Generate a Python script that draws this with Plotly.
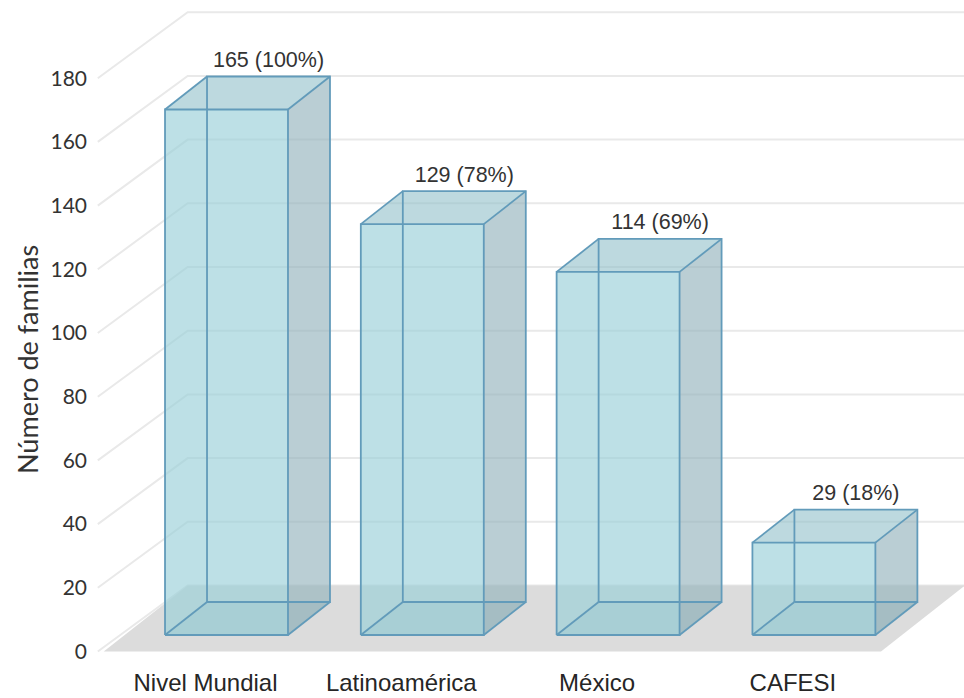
import plotly.graph_objects as go

# ---------------- data ----------------
categories = ["Nivel Mundial", "Latinoamérica", "México", "CAFESI"]
familias = [165, 129, 114, 29]
porcentajes = [100, 78, 69, 18]
y_ticks = [0, 20, 40, 60, 80, 100, 120, 140, 160, 180]

# ---------------- geometry / style ----------------
W, H = 964, 698
ML, MB = 92, 38
PX_PER_CAT = 195.8
PX_PER_VAL = 3.185
X0_PX = 205.5
Y0_PX = 651.5
DX = 84 / PX_PER_CAT      # full depth offset (x units)
DY = 66 / PX_PER_VAL      # full depth offset (y units)
BAR_W = 0.628
D0, D1 = 0.25, 0.75
FLOOR_L, FLOOR_R = -0.52, 3.45

x_range = [(ML - X0_PX) / PX_PER_CAT, (W - X0_PX) / PX_PER_CAT]
y_range = [(Y0_PX - (H - MB)) / PX_PER_VAL, Y0_PX / PX_PER_VAL]


def P(c, v, d):
    return (c + d * DX, v + d * DY)


def path(pts, close=True):
    s = "M {} {}".format(*pts[0])
    for p in pts[1:]:
        s += " L {} {}".format(*p)
    return s + (" Z" if close else "")


fig = go.Figure()

# walls gridlines
for t in y_ticks:
    a = P(FLOOR_L - 0.03, t, 0)
    b = P(FLOOR_L, t, 1)
    c = (x_range[1] + 0.3, b[1])
    fig.add_shape(type="path", path=path([a, b, c], close=False),
                  xref="x", yref="y", layer="below",
                  line=dict(color="#e9e9e9", width=2),
                  fillcolor="rgba(0,0,0,0)")

# floor
fig.add_shape(type="path",
              path=path([P(FLOOR_L, 0, 0), P(FLOOR_R, 0, 0),
                         P(FLOOR_R, 0, 1), P(FLOOR_L, 0, 1)]),
              xref="x", yref="y", layer="below",
              line=dict(width=0), fillcolor="#dcdcdc")

face_colors = {
    "back": "rgba(160,210,218,0.30)",
    "left": "rgba(160,210,218,0.30)",
    "bottom": "rgba(120,180,195,0.35)",
    "right": "rgba(145,172,180,0.50)",
    "top": "rgba(145,188,198,0.45)",
    "front": "rgba(152,208,216,0.50)",
}
edge_color = "rgb(98,155,186)"

for i, v in enumerate(familias):
    l, r = i - BAR_W / 2, i + BAR_W / 2
    FBL, FBR, FTL, FTR = P(l, 0, D0), P(r, 0, D0), P(l, v, D0), P(r, v, D0)
    BBL, BBR, BTL, BTR = P(l, 0, D1), P(r, 0, D1), P(l, v, D1), P(r, v, D1)
    faces = [
        ("back", [BBL, BBR, BTR, BTL]),
        ("left", [FBL, BBL, BTL, FTL]),
        ("bottom", [FBL, FBR, BBR, BBL]),
        ("right", [FBR, BBR, BTR, FTR]),
        ("top", [FTL, FTR, BTR, BTL]),
        ("front", [FBL, FBR, FTR, FTL]),
    ]
    for name, pts in faces:
        fig.add_shape(type="path", path=path(pts), xref="x", yref="y",
                      line=dict(width=0), fillcolor=face_colors[name])
    edges = [
        [FBL, FBR, FTR, FTL, FBL],
        [BBL, BBR, BTR, BTL, BBL],
        [FBL, BBL], [FBR, BBR], [FTL, BTL], [FTR, BTR],
    ]
    for e in edges:
        fig.add_shape(type="path", path=path(e, close=False), xref="x", yref="y",
                      line=dict(color=edge_color, width=1.8),
                      fillcolor="rgba(0,0,0,0)")

# data labels
lab_x = [i + D1 * DX for i in range(len(familias))]
lab_y = [v + D1 * DY + 1.3 for v in familias]
lab_t = ["{} ({}%)".format(v, p) for v, p in zip(familias, porcentajes)]
fig.add_trace(go.Scatter(
    x=lab_x, y=lab_y, text=lab_t, mode="text", textposition="top center",
    textfont=dict(family="Liberation Sans", size=21.5, color="#333333"),
    hoverinfo="skip", showlegend=False, cliponaxis=False))

fig.add_annotation(
    text="Número de familias", textangle=-90,
    xref="paper", yref="paper",
    x=(27 - ML) / (W - ML), y=1 - 360 / (H - MB),
    xanchor="center", yanchor="middle", showarrow=False,
    font=dict(family="Lato", size=27, color="#333333"))

fig.update_layout(
    width=W, height=H,
    margin=dict(l=ML, r=0, t=0, b=MB),
    paper_bgcolor="white", plot_bgcolor="white",
    showlegend=False,
    xaxis=dict(range=x_range, tickvals=list(range(len(categories))),
               ticktext=categories, showgrid=False, zeroline=False,
               showline=False, ticks="", fixedrange=True,
               ticklabelstandoff=6,
               tickfont=dict(family="Liberation Sans", size=24, color="#262626")),
    yaxis=dict(range=y_range, tickvals=y_ticks, showgrid=False,
               zeroline=False, showline=False, ticks="", fixedrange=True,
               ticklabelstandoff=4,
               tickfont=dict(family="Lato", size=21, color="#333333")),
)

fig.write_html("out.html")
